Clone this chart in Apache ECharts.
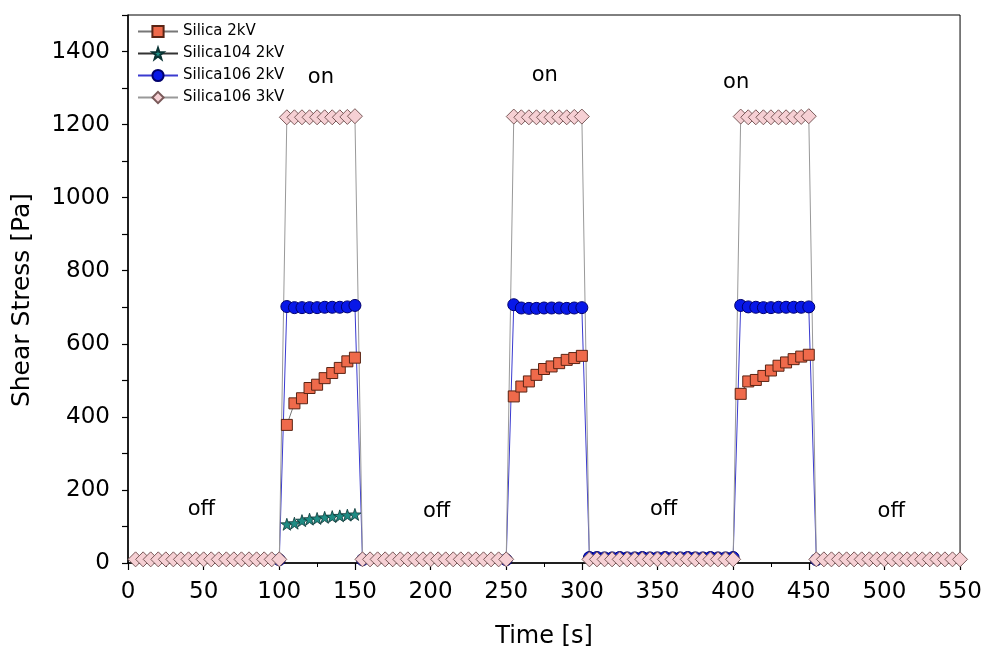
<!DOCTYPE html>
<html><head><meta charset="utf-8">
<script src="https://cdn.jsdelivr.net/npm/echarts@6.0.0/dist/echarts.min.js"></script>
<style>html,body{margin:0;padding:0;background:#fff}#c{width:985px;height:655px}</style>
</head><body><div id="c"></div>
<script>
// ---- time (s) for each phase ----
const timeOff1 = [5,10,15,20,25,30,35,40,45,50,55,60,65,70,75,80,85,90,95,100];
const timeOn1  = [105,110,115,120,125,130,135,140,145,150];
const timeOff2 = [155,160,165,170,175,180,185,190,195,200,205,210,215,220,225,230,235,240,245,250];
const timeOn2  = [255,260,265,270,275,280,285,290,295,300];
const timeOff3 = [305,310,315,320,325,330,335,340,345,350,355,360,365,370,375,380,385,390,395,400];
const timeOn3  = [405,410,415,420,425,430,435,440,445,450];
const timeOff4 = [455,460,465,470,475,480,485,490,495,500,505,510,515,520,525,530,535,540,545,550];

// ---- Silica 2kV (squares) ----
const silica2kV_on1 = [378,437,451,479,488,506,520,534,552,562];
const silica2kV_on2 = [456,483,497,515,531,538,547,556,561,567];
const silica2kV_on3 = [463,497,501,512,527,540,549,558,565,570];

// ---- Silica104 2kV (stars) ----
const silica104_on1 = [106,109,116,120,122,125,127,129,131,133];

// ---- Silica106 2kV (circles) ----
const silica106_2kV_on1 = [702,699,699,699,699,700,700,700,701,705];
const silica106_2kV_on2 = [707,698,697,697,698,698,698,697,698,699];
const silica106_2kV_on3 = [705,701,700,699,699,700,700,700,700,701];
const silica106_2kV_off3 = [15,15,14,14,15,14,14,15,14,14,15,14,14,15,14,14,15,14,14,15];
const silica106_2kV_edgeTimes = [100,155,250,455];
const silica106_2kV_edgeVals  = [9,9,9,9];

// ---- Silica106 3kV (diamonds) ----
const silica106_3kV_off1 = [10,10,10,10,10,10,10,10,10,10,10,10,10,10,10,10,10,10,10,10];
const silica106_3kV_on1  = [1220,1220,1220,1220,1220,1220,1220,1220,1221,1223];
const silica106_3kV_off2 = [10,10,10,10,10,10,10,10,10,10,10,10,10,10,10,10,10,10,10,10];
const silica106_3kV_on2  = [1222,1220,1220,1220,1220,1220,1220,1220,1221,1222];
const silica106_3kV_off3 = [10,10,10,10,10,10,10,10,10,10,10,10,10,10,10,10,10,10,10,10];
const silica106_3kV_on3  = [1222,1220,1220,1220,1220,1220,1220,1220,1221,1223];
const silica106_3kV_off4 = [10,10,10,10,10,10,10,10,10,10,10,10,10,10,10,10,10,10,10,10];

// ---- annotations ----
const annotTimes  = [127.5, 275.5, 402, 48.5, 204, 354, 504.5];
const annotValues = [1330, 1335, 1316, 146, 141, 146, 141];
const annotLabels = ['on','on','on','off','off','off','off'];

// ---- axis ticks ----
const xTicks = [0,50,100,150,200,250,300,350,400,450,500,550];
const yTicks = [0,200,400,600,800,1000,1200,1400];

function seg(t, v){ return t.map((x,i)=>[x, v[i]]); }
function gap(a, b){ return [[(a+b)/2, null]]; }

const squaresData = [].concat(
  seg(timeOn1, silica2kV_on1), gap(150,255),
  seg(timeOn2, silica2kV_on2), gap(300,405),
  seg(timeOn3, silica2kV_on3));
const starsData = seg(timeOn1, silica104_on1);
const e = silica106_2kV_edgeTimes, ev = silica106_2kV_edgeVals;
const circlesData = [].concat(
  [[e[0], ev[0]]], seg(timeOn1, silica106_2kV_on1), [[e[1], ev[1]]], gap(e[1], e[2]),
  [[e[2], ev[2]]], seg(timeOn2, silica106_2kV_on2), seg(timeOff3, silica106_2kV_off3),
  seg(timeOn3, silica106_2kV_on3), [[e[3], ev[3]]]);
const diamondsData = [].concat(
  seg(timeOff1, silica106_3kV_off1), seg(timeOn1, silica106_3kV_on1),
  seg(timeOff2, silica106_3kV_off2), seg(timeOn2, silica106_3kV_on2),
  seg(timeOff3, silica106_3kV_off3), seg(timeOn3, silica106_3kV_on3),
  seg(timeOff4, silica106_3kV_off4));
const annotData = annotTimes.map((t,i)=>[t, annotValues[i]]);

const FONT = 'DejaVu Sans';
const star = 'path://M0,-10L2.35,-3.24L9.51,-3.09L3.8,1.24L5.88,8.09L0,4L-5.88,8.09L-3.8,1.24L-9.51,-3.09L-2.35,-3.24Z';

const chart = echarts.init(document.getElementById('c'), null, {renderer:'canvas'});
chart.setOption({
  animation:false,
  backgroundColor:'#ffffff',
  textStyle:{fontFamily:FONT},
  grid:{left:128, right:24, top:15, bottom:92, show:true, borderColor:'#000', borderWidth:1, backgroundColor:'transparent'},
  legend:{
    data:['Silica 2kV','Silica104 2kV','Silica106 2kV','Silica106 3kV'],
    orient:'vertical', left:132, top:19, itemWidth:40, itemHeight:14, itemGap:7,
    textStyle:{fontFamily:FONT, fontSize:15, color:'#000'}
  },
  xAxis:{
    type:'value', min:xTicks[0], max:xTicks[xTicks.length-1], interval:50,
    name:'Time [s]', nameLocation:'middle', nameGap:62,
    nameTextStyle:{fontFamily:FONT, fontSize:24, color:'#000'},
    axisLine:{show:true, onZero:false, lineStyle:{color:'#000', width:1.5}},
    axisTick:{show:true, inside:false, length:7, lineStyle:{color:'#000', width:1.2}},
    minorTick:{show:true, splitNumber:2, length:4, lineStyle:{color:'#000', width:1}},
    splitLine:{show:false}, minorSplitLine:{show:false},
    axisLabel:{fontFamily:FONT, fontSize:23, color:'#000', margin:18,
      formatter:v=>xTicks.indexOf(v)>=0 ? String(v) : ''}
  },
  yAxis:{
    type:'value', min:0, max:1500, interval:100,
    name:'Shear Stress [Pa]', nameLocation:'middle', nameGap:93,
    nameTextStyle:{fontFamily:FONT, fontSize:25, color:'#000', padding:[0,22,0,0]},
    axisLine:{show:true, onZero:false, lineStyle:{color:'#000', width:1.5}},
    axisTick:{show:true, inside:false, length:6, lineStyle:{color:'#000', width:1.2}},
    splitLine:{show:false},
    axisLabel:{fontFamily:FONT, fontSize:23, color:'#000', margin:18,
      formatter:v=>yTicks.indexOf(v)>=0 ? String(v) : ''}
  },
  series:[
    {name:'Silica 2kV', type:'line', data:squaresData, connectNulls:false,
     symbol:'rect', symbolSize:11,
     itemStyle:{color:'#EF6A4B', borderColor:'#5a2414', borderWidth:1},
     lineStyle:{color:'#777', width:1}},
    {name:'Silica104 2kV', type:'line', data:starsData,
     symbol:star, symbolSize:12,
     itemStyle:{color:'#1F8C84', borderColor:'#0a3434', borderWidth:0.8},
     lineStyle:{color:'#333', width:1}},
    {name:'Silica106 2kV', type:'line', data:circlesData, connectNulls:false,
     symbol:'circle', symbolSize:12,
     itemStyle:{color:'#0818E8', borderColor:'#00006e', borderWidth:1},
     lineStyle:{color:'#3a3ad0', width:1}},
    {name:'Silica106 3kV', type:'line', data:diamondsData,
     symbol:'diamond', symbolSize:15,
     itemStyle:{color:'#F6D0D4', borderColor:'#7a5a5a', borderWidth:1},
     lineStyle:{color:'#999', width:1}},
    {name:'annot', type:'scatter', data:annotData, symbolSize:0.1, silent:true, z:10,
     itemStyle:{color:'#ffffff', opacity:1},
     label:{show:true, position:'inside', fontFamily:FONT, fontSize:21, color:'#000',
       textBorderWidth:0, opacity:1,
       formatter:p=>annotLabels[p.dataIndex]}}
  ]
});
</script></body></html>
